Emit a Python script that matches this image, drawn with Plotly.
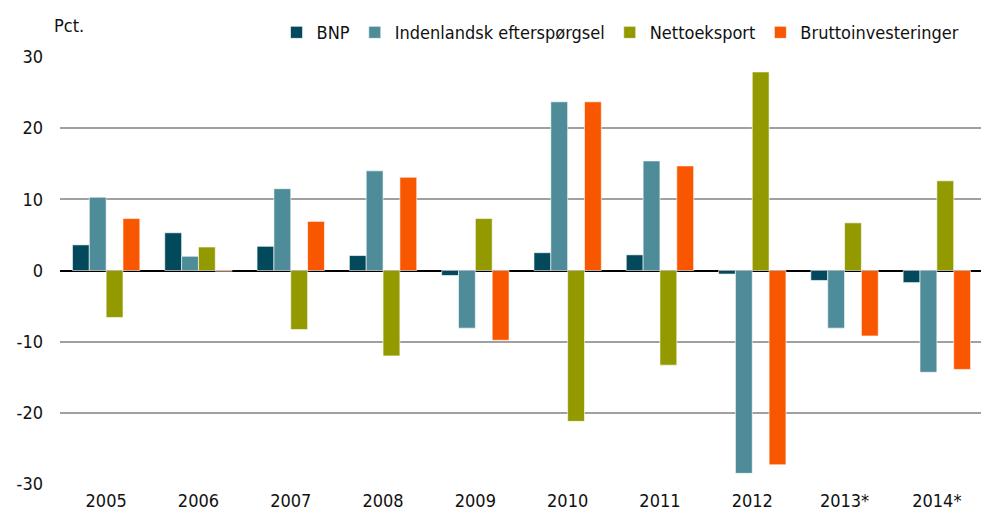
import plotly.graph_objects as go

years = ["2005", "2006", "2007", "2008", "2009", "2010", "2011", "2012", "2013*", "2014*"]

bnp = [3.6, 5.3, 3.4, 2.1, -0.7, 2.5, 2.2, -0.5, -1.4, -1.7]
indenlandsk = [10.3, 2.0, 11.5, 14.0, -8.1, 23.7, 15.4, -28.5, -8.1, -14.3]
nettoeksport = [-6.6, 3.3, -8.3, -12.0, 7.3, -21.2, -13.3, 27.9, 6.7, 12.6]
brutto = [7.3, -0.1, 6.9, 13.1, -9.8, 23.7, 14.7, -27.3, -9.2, -13.9]

y_ticks = [-30, -20, -10, 0, 10, 20, 30]
y_labels = ["-30", "-20", "-10", "0", "10", "20", "30"]

series = [
    ("BNP", bnp, "#02495C"),
    ("Indenlandsk efterspørgsel", indenlandsk, "#4E8C99"),
    ("Nettoeksport", nettoeksport, "#939A00"),
    ("Bruttoinvesteringer", brutto, "#F85700"),
]

FONT = "DejaVu Sans Condensed, Liberation Sans Narrow, Roboto, sans-serif"

fig = go.Figure()
for name, vals, color in series:
    fig.add_trace(go.Bar(
        x=years, y=vals, name=name,
        marker=dict(color=color, line=dict(color="rgba(255,255,255,0.6)", width=1)),
    ))

# page body has an 8px margin, so size is trimmed to fit the window
fig.update_layout(
    width=981, height=512,
    barmode="group", bargap=0.27, bargroupgap=0,
    plot_bgcolor="white", paper_bgcolor="white",
    margin=dict(l=52, r=6, t=46, b=36),
    font=dict(family=FONT, size=18, color="#111111"),
    legend=dict(orientation="h", x=0.98, xanchor="right", y=1.057, yanchor="middle",
                font=dict(size=18), itemwidth=30, traceorder="normal"),
    annotations=[dict(text="Pct.", xref="paper", yref="paper", x=-0.009, y=1.074,
                      xanchor="left", yanchor="middle", showarrow=False,
                      font=dict(size=18))],
)
fig.update_yaxes(
    range=[-30, 30], tickvals=y_ticks, ticktext=y_labels,
    showgrid=True, gridcolor="#A0A0A0", gridwidth=1.5,
    zeroline=True, zerolinecolor="black", zerolinewidth=2,
    ticks="", ticklabelstandoff=16,
)
fig.update_xaxes(showgrid=False, ticks="", showline=False, ticklabelstandoff=4)

fig.write_html("out.html")
